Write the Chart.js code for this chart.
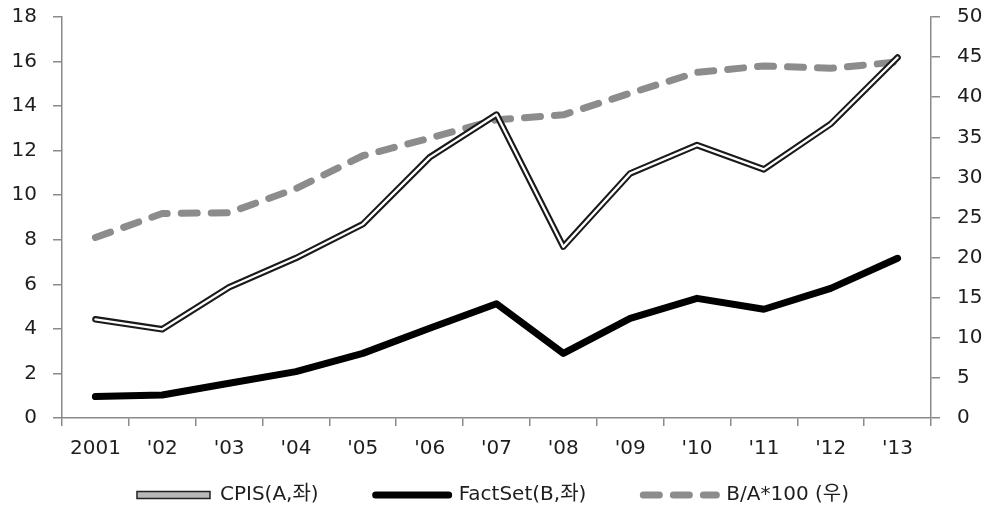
<!DOCTYPE html>
<html><head><meta charset="utf-8">
<script src="https://cdn.jsdelivr.net/npm/chart.js@4/dist/chart.umd.min.js"></script>
<style>html,body{margin:0;padding:0;background:#fff}#wrap{width:986px;height:510px}</style>
</head><body><div id="wrap"><canvas id="c" width="986" height="510"></canvas></div>
<script>
const categories = ['2001', "'02", "'03", "'04", "'05", "'06", "'07", "'08", "'09", "'10", "'11", "'12", "'13"];
const cpis = [4.43, 3.98, 5.87, 7.18, 8.7, 11.7, 13.62, 7.69, 10.98, 12.25, 11.16, 13.2, 16.18];
const factset = [0.96, 1.03, 1.56, 2.08, 2.9, 4.03, 5.13, 2.9, 4.47, 5.37, 4.88, 5.82, 7.17];
const ratio = [22.5, 25.5, 25.6, 28.6, 32.7, 34.9, 37.2, 37.8, 40.5, 43.1, 43.9, 43.6, 44.4];
const leftTicks = [0, 2, 4, 6, 8, 10, 12, 14, 16, 18];
const rightTicks = [0, 5, 10, 15, 20, 25, 30, 35, 40, 45, 50];
const seriesLabels = ['CPIS(A,좌)', 'FactSet(B,좌)', 'B/A*100 (우)'];

const FONT = '"DejaVu Sans", "Noto Sans CJK KR", sans-serif';
const AXIS = '#8a8a8a';
const TXT = '#1e1e1e';

// extend the legend box upward so its row sits just under the axis labels
const legendShift = {
  id: 'legendShift',
  afterLayout(chart) {
    if (chart.legend) { chart.legend.top -= 37; }
  }
};

const ctx = document.getElementById('c').getContext('2d');
new Chart(ctx, {
  type: 'line',
  plugins: [legendShift],
  data: {
    labels: categories,
    datasets: [
      { label: seriesLabels[0], data: cpis, yAxisID: 'y', borderColor: '#1a1a1a', borderWidth: 6.5, order: 1 },
      { label: seriesLabels[0] + ' inner', data: cpis, yAxisID: 'y', borderColor: '#ffffff', borderWidth: 2.3, order: 0 },
      { label: seriesLabels[1], data: factset, yAxisID: 'y', borderColor: '#000000', borderWidth: 7, order: 2 },
      { label: seriesLabels[2], data: ratio, yAxisID: 'y1', borderColor: '#8c8c8c', borderWidth: 7, borderDash: [16, 14], borderCapStyle: 'round', order: 3 }
    ]
  },
  options: {
    responsive: false,
    animation: false,
    devicePixelRatio: 1,
    layout: { padding: { top: 17, left: 0, right: 0, bottom: 0 } },
    elements: {
      point: { radius: 0, hoverRadius: 0 },
      line: { tension: 0, fill: false, borderJoinStyle: 'round', borderCapStyle: 'round' }
    },
    plugins: {
      tooltip: { enabled: false },
      legend: {
        position: 'bottom',
        align: 'center',
        maxHeight: 45,
        labels: {
          usePointStyle: true,
          pointStyleWidth: 73,
          boxHeight: 7,
          padding: 57,
          color: TXT,
          font: { family: FONT, size: 20 },
          generateLabels: () => [
            { text: seriesLabels[0], pointStyle: 'rect', fillStyle: '#b8b8b8', strokeStyle: '#222', lineWidth: 1.5, hidden: false, datasetIndex: 0, fontColor: TXT },
            { text: seriesLabels[1], pointStyle: 'line', fillStyle: '#000', strokeStyle: '#000', lineWidth: 7, lineCap: 'round', hidden: false, datasetIndex: 2, fontColor: TXT },
            { text: seriesLabels[2], pointStyle: 'line', fillStyle: '#8c8c8c', strokeStyle: '#8c8c8c', lineWidth: 7, lineCap: 'round', lineDash: [16, 14], hidden: false, datasetIndex: 3, fontColor: TXT }
          ]
        }
      }
    },
    scales: {
      x: {
        type: 'category',
        offset: true,
        grid: { offset: true, drawOnChartArea: false, drawTicks: true, tickLength: 8, color: AXIS, lineWidth: 1.5 },
        border: { display: true, color: AXIS, width: 1.5 },
        ticks: { color: TXT, font: { family: FONT, size: 20 }, padding: 11, maxRotation: 0, autoSkip: false },
        afterFit: s => { s.height = 47; }
      },
      y: {
        position: 'left',
        min: 0, max: 18,
        grid: { drawOnChartArea: false, drawTicks: true, tickLength: 9, color: AXIS, lineWidth: 1.5 },
        border: { display: true, color: AXIS, width: 1.5 },
        ticks: { color: TXT, font: { family: FONT, size: 20 }, padding: 16 },
        afterBuildTicks: s => { s.ticks = leftTicks.map(v => ({ value: v })); },
        afterFit: s => { s.width = 62; s.paddingTop = 0; s.paddingBottom = 0; }
      },
      y1: {
        position: 'right',
        min: 0, max: 50,
        grid: { drawOnChartArea: false, drawTicks: true, tickLength: 9, color: AXIS, lineWidth: 1.5 },
        border: { display: true, color: AXIS, width: 1.5 },
        ticks: { color: TXT, font: { family: FONT, size: 20 }, padding: 17 },
        afterBuildTicks: s => { s.ticks = rightTicks.map(v => ({ value: v })); },
        afterFit: s => { s.width = 55; s.paddingTop = 0; s.paddingBottom = 0; }
      }
    }
  }
});
</script>
</body></html>
